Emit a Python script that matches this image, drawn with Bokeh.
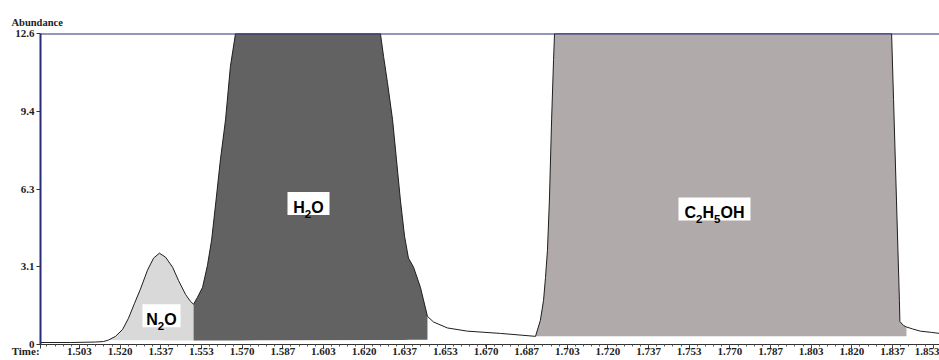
import numpy as np
from bokeh.plotting import figure
from bokeh.models import Range1d, FixedTicker, Span, ColumnDataSource
from bokeh.core.properties import value
from bokeh.embed import file_html
from bokeh.resources import INLINE

# ---- data ----
time_min = [1.4873, 1.4996, 1.5099, 1.5132, 1.5152, 1.5181, 1.5210, 1.5234, 1.5259,
            1.5283, 1.5312, 1.5337, 1.5361, 1.5386, 1.5415, 1.5439, 1.5468, 1.5488,
            1.5501, 1.5517, 1.5538, 1.5558, 1.5575, 1.5591, 1.5611, 1.5632, 1.5652,
            1.5673, 1.5681, 1.6267, 1.6280, 1.6296, 1.6317, 1.6333, 1.6349, 1.6366,
            1.6382, 1.6403, 1.6431, 1.6460, 1.6485, 1.6542, 1.6624, 1.6759, 1.6903,
            1.6923, 1.6936, 1.6944, 1.6952, 1.6960, 1.6969, 1.6977, 1.6981, 1.8363,
            1.8371, 1.8383, 1.8395, 1.8397, 1.8412, 1.8424, 1.8449, 1.8481, 1.8527,
            1.8559]
abundance = [0.08, 0.08, 0.10, 0.12, 0.18, 0.33, 0.61, 1.06, 1.67,
             2.24, 3.01, 3.50, 3.70, 3.54, 3.13, 2.60, 2.03, 1.75,
             1.63, 1.91, 2.32, 3.21, 4.23, 5.65, 7.48, 9.10, 11.26,
             12.60, 12.60, 12.60, 11.67, 10.61, 9.10, 7.48, 5.85, 4.39,
             3.50, 3.13, 2.32, 1.14, 0.91, 0.67, 0.54, 0.45, 0.33,
             0.98, 1.79, 2.72, 3.82, 5.85, 9.10, 11.54, 12.60, 12.60,
             9.92, 5.85, 1.79, 0.93, 0.77, 0.71, 0.63, 0.54, 0.49,
             0.45]

# peak integration windows and their baselines
peak_names = ["N2O", "H2O", "C2H5OH"]
peak_start = [1.5152, 1.5501, 1.6903]
peak_end = [1.5501, 1.6460, 1.8424]
baseline_start = [0.18, 0.16, 0.33]
baseline_end = [0.16, 0.19, 0.33]
label_time = [1.53695, 1.59722, 1.76368]
label_abund = [1.16, 5.71, 5.49]

x_ticks = [1.50333, 1.52, 1.53667, 1.55333, 1.57, 1.58667, 1.60333, 1.62, 1.63667,
           1.65333, 1.67, 1.68667, 1.70333, 1.72, 1.73667, 1.75333, 1.77, 1.78667,
           1.80333, 1.82, 1.83667, 1.85333]
x_tick_labels = ["1.503", "1.520", "1.537", "1.553", "1.570", "1.587", "1.603", "1.620",
                 "1.637", "1.653", "1.670", "1.687", "1.703", "1.720", "1.737", "1.753",
                 "1.770", "1.787", "1.803", "1.820", "1.837", "1.853"]
y_ticks = [0, 3.15, 6.3, 9.45, 12.6]
y_tick_labels = ["0", "3.1", "6.3", "9.4", "12.6"]
x_title = "Time:"
y_title = "Abundance"

# ---- styles ----
peak_colors = ["#d9d9d9", "#626262", "#b0aaaa"]
NAVY = "#2a2a7c"
SERIF = "Liberation Serif"
SANS = "Liberation Sans"
W, H = 939, 360
BL, BR, BT, BB = 40, 0, 33, 16
X0, X1 = 1.48734, 1.85594
Y0, Y1 = 0.0, 12.6
px_per_x = (W - BL - BR) / (X1 - X0)
px_per_y = (H - BT - BB) / (Y1 - Y0)

t = np.array(time_min)
a = np.array(abundance)

p = figure(width=W, height=H, output_backend="svg", toolbar_location=None,
           x_range=Range1d(X0, X1), y_range=Range1d(Y0, Y1),
           min_border_left=BL, min_border_right=BR, min_border_top=BT, min_border_bottom=BB)
p.outline_line_color = None
p.xgrid.visible = False
p.ygrid.visible = False
p.background_fill_color = "white"
p.border_fill_color = "white"

for s, e, b0, b1, col in zip(peak_start, peak_end, baseline_start, baseline_end, peak_colors):
    m = (t >= s - 1e-9) & (t <= e + 1e-9)
    tt = t[m]
    base = np.interp(tt, [s, e], [b0, b1])
    p.varea(x=tt, y1=base, y2=a[m], fill_color=col, fill_alpha=1.0)

p.line(time_min, abundance, line_color="#1e1e1e", line_width=1)

p.add_layout(Span(location=Y1, dimension="width", line_color=NAVY, line_width=2))

# ---- axes ----
# "Time:" sits at the left end of the time axis' label row: it is carried by a tick
# at the start of the range, padded on the right with no-break spaces.
title_tick = X0 + 0.0001
all_ticks = [title_tick] + x_ticks
all_labels = [x_title + "\u00a0" * 11] + x_tick_labels
minor = [x_ticks[0] + k / 300 for k in range(-4, 5 * 21 + 1)]
p.xaxis.ticker = FixedTicker(ticks=all_ticks, minor_ticks=minor)
p.xaxis.major_label_overrides = {tk: lb for tk, lb in zip(all_ticks, all_labels)}
p.xaxis.axis_line_color = "#333333"
p.xaxis.axis_line_width = 1
p.xaxis.major_tick_line_color = "#333333"
p.xaxis.minor_tick_line_color = "#555555"
p.xaxis.major_tick_out = 4
p.xaxis.major_tick_in = 0
p.xaxis.minor_tick_out = 2
p.xaxis.minor_tick_in = 0
p.xaxis.major_label_standoff = -4
p.xaxis.axis_label_standoff = 0

p.yaxis.ticker = FixedTicker(ticks=y_ticks, minor_ticks=[])
p.yaxis.major_label_overrides = {tk: lb for tk, lb in zip(y_ticks, y_tick_labels)}
p.yaxis.axis_line_color = NAVY
p.yaxis.axis_line_width = 2
p.yaxis.major_tick_line_color = "#333333"
p.yaxis.major_tick_out = 4
p.yaxis.major_tick_in = 0
p.yaxis.major_label_standoff = 2

for ax in (p.xaxis, p.yaxis):
    ax.major_label_text_font = SERIF
    ax.major_label_text_font_style = "bold"
    ax.major_label_text_font_size = "11px"
    ax.major_label_text_color = "#222222"

# ---- "Abundance" above the value axis ----
p.title.text = y_title
p.title.align = "left"
p.title.offset = -29
p.title.vertical_align = "top"
p.title.standoff = 8
p.title.text_font = SERIF
p.title.text_font_style = "bold"
p.title.text_font_size = "10.5px"
p.title.text_color = "#222222"

# ---- peak labels with chemical subscripts ----
main_fs, sub_fs = 16, 11.5
char_w = {"N": 0.722, "O": 0.778, "H": 0.722, "C": 0.722, "2": 0.556, "5": 0.556}
box_w = [38, 42, 72]
box_h = 23
seg_x, seg_y, seg_t, seg_fs = [], [], [], []
for name, lt, la in zip(peak_names, label_time, label_abund):
    segs = [(ch, ch.isdigit()) for ch in name]
    widths = [char_w[ch] * (sub_fs if sub else main_fs) for ch, sub in segs]
    cur = -sum(widths) / 2
    for (ch, sub), w in zip(segs, widths):
        seg_x.append(lt + cur / px_per_x)
        base_px = 10.5 if sub else 3.8   # baseline offset below the label centre
        seg_y.append(la - base_px / px_per_y)
        seg_t.append(ch)
        seg_fs.append(f"{sub_fs if sub else main_fs}px")
        cur += w

p.rect(x=label_time, y=label_abund, width=box_w, height=box_h, width_units="screen",
       height_units="screen", fill_color="white", line_color=None)
src = ColumnDataSource(dict(x=seg_x, y=seg_y, text=seg_t, fs=seg_fs))
p.text(x="x", y="y", text="text", source=src, text_font=value(SANS), text_font_style="bold",
       text_font_size="fs", text_color="black", text_align="left", text_baseline="alphabetic")

open("out.html", "w").write(file_html(p, INLINE))
